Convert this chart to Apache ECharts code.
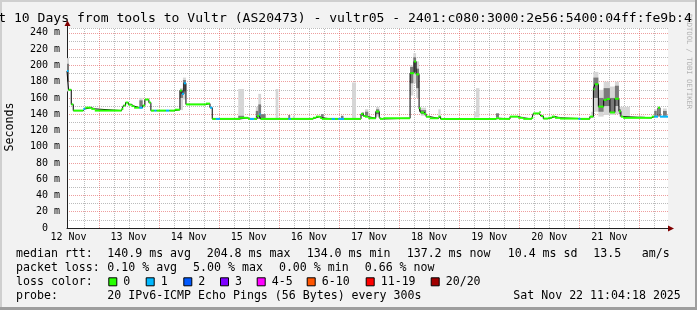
<!DOCTYPE html>
<html><head><meta charset="utf-8">
<script src="https://cdn.jsdelivr.net/npm/echarts@6/dist/echarts.min.js"></script>
<style>html,body{margin:0;padding:0;background:#f2f2f2}#c{width:697px;height:310px}</style>
</head><body><div id="c"></div>
<script>
// ---------------- data (hours since 2025-11-12 00:00) ----------------
const xStart = 11.4, xEnd = 251.4;
const segStart = [11.4,12.0,13.1,13.9,17.9,18.7,21.1,22.5,33.2,33.9,34.8,35.9,37.2,38.2,40.3,41.6,42.5,44.1,44.9,46.3,47.2,50.9,52.3,54.5,56.5,57.3,58.1,58.9,66.9,68.5,69.4,70.8,72.5,80.5,83.7,84.5,86.2,87.3,88.2,88.7,99.8,100.8,109.6,110.8,112.4,113.2,117.1,118.4,119.7,122.1,128.8,129.7,130.4,131.7,134.7,136.1,136.4,137.7,148.4,150.0,150.8,152.0,152.6,154.0,154.8,156.3,159.7,160.6,182.7,183.9,188.3,191.6,193.6,197.0,197.6,200.0,200.6,201.6,203.6,205.0,206.3,208.3,215.6,216.5,220.2,221.6,222.2,223.6,225.7,226.9,228.2,230.2,231.8,232.6,233.5,244.9,245.9,247.4,248.2];
const segMedian = [193,170,152,144.4,146.5,148,146.5,144.4,146.5,150.6,154.3,151.8,150,148,148,150.6,158,154.3,144.4,144.4,144.4,144.4,144.4,145.5,169,165,178,152,153,148,134.2,134.2,134.2,135.5,134.2,134.2,134.2,137.8,140,134.2,134.2,134.2,135.5,137,135.5,134.2,134.2,134.2,134.2,134.2,140.3,137.8,136.9,135,143.2,135.5,134.2,135,190.4,204.8,189,147.3,142.1,140.3,136.9,135,137,134.2,135,134.2,137,135.5,134.2,135.5,140.9,142.5,137.8,134.6,135.5,137,135.5,134.6,134.2,134.2,137,170.7,176.8,149.3,157.5,158.7,142.1,159,143.6,137,135.5,137,137,148,137];
const segLoss = [1,0,0,0,1,0,0,0,0,0,0,0,0,0,1,0,0,0,0,1,0,1,0,0,0,1,1,0,0,1,0,1,0,0,0,1,0,0,1,0,1,0,0,0,0,0,1,0,1,0,0,0,0,0,0,0,0,0,0,0,0,0,0,0,0,0,0,0,0,0,0,0,0,0,0,0,0,0,0,0,0,0,1,0,0,0,0,0,0,0,0,0,0,0,0,0,1,0,1];

// smoke: full ping spread (outer) and central pings (inner)
const smokeOuterStart = [11.4,40.3,56.5,57.7,79.8,86.8,87.8,88.9,94.7,99.8,101.6,112.8,120.8,125.2,129.1,130.4,134.8,148.4,149.7,150.8,152.0,152.7,159.7,173.9,174.7,182.7,220.6,221.6,223.6,225.7,228.2,230.2,231.8,232.6,234.6,239.8,245.9,249.4];
const smokeOuterEnd   = [12.2,41.6,57.7,58.9,82.1,87.8,88.9,90.7,95.8,100.5,102.4,113.9,121.8,126.8,130.0,131.7,136.1,149.7,150.8,152.0,152.7,154.8,160.6,174.7,176.1,183.9,221.6,223.6,225.7,228.2,230.2,231.8,232.6,234.6,236.2,242.2,246.9,250.9];
const smokeOuterLo    = [168,147,145,158,134,134,134,134,134,134,134,134,134,134,138,137,137,163,178,160,142,138,135,136,136,136,135,143,137,139,139,140,137,137,137,135,137,137];
const smokeOuterHi    = [209,160,172,185,171,149,165,140,171,139,138,140,138,179,142,146,149,200,215,205,149,148,146,143,172,141,143,192,170,180,174,180,149,149,149,138,146,147];
const smokeInnerStart = [11.4,40.3,56.5,57.7,79.8,86.8,87.8,88.9,99.8,112.8,120.8,129.1,130.4,134.8,148.4,149.7,150.8,152.0,152.7,182.7,221.6,223.6,225.7,228.2,230.2,231.8,245.9,249.4];
const smokeInnerEnd   = [12.2,41.6,57.7,58.9,82.1,87.8,88.9,90.7,100.5,113.9,121.8,130.0,131.7,136.1,149.7,150.8,152.0,152.7,154.8,183.9,223.6,225.7,228.2,230.2,231.8,232.6,246.9,250.9];
const smokeInnerLo    = [180,149,160,168,134,136,134,134,134,134,134,138,138,140,178,192,172,143,140,136,160,143,150,142,150,140,138,138];
const smokeInnerHi    = [202,157,170,182,138,144,152,140,139,140,138,142,143,146,198,210,196,148,145,141,185,160,172,160,175,146,144,144];

const dayNoons  = [12,36,60,84,108,132,156,180,204,228];
const dayLabels = ['12 Nov','13 Nov','14 Nov','15 Nov','16 Nov','17 Nov','18 Nov','19 Nov','20 Nov','21 Nov'];
const gridHours = [18,24,30,36,42,48,54,60,66,72,78,84,90,96,102,108,114,120,126,132,138,144,150,156,162,168,174,180,186,192,198,204,210,216,222,228,234,240,246];
const yMax = 246, yStep = 10, yLabelStep = 20;

const titleText = 'Last 10 Days from tools to Vultr (AS20473) - vultr05 - 2401:c080:3000:2e56:5400:04ff:fe9b:4';
const rttStats  = ['140.9 ms avg','204.8 ms max','134.0 ms min','137.2 ms now','10.4 ms sd','13.5','am/s'];
const lossStats = ['0.10 % avg','5.00 % max','0.00 % min','0.66 % now'];
const lossLegendLabels = ['0','1','2','3','4-5','6-10','11-19','20/20'];
const lossLegendMax    = [0,1,2,3,5,10,19,20];
const lossLegendColors = ['#26ff00','#00b8ff','#0059ff','#7e00ff','#ff00ff','#ff5500','#ff0000','#a10000'];
const probeText = '20 IPv6-ICMP Echo Pings (56 Bytes) every 300s';
const dateText  = 'Sat Nov 22 11:04:18 2025';

// ---------------- chart ----------------
const MONO = '"DejaVu Sans Mono", monospace';
function lossColor(n){ for (let i=0;i<lossLegendMax.length;i++) if (n<=lossLegendMax[i]) return lossLegendColors[i]; return '#a10000'; }

const medianSegs = segStart.map((s,i)=>[s, i<segStart.length-1?segStart[i+1]:xEnd, segMedian[i], segLoss[i]]);
const stepLine = segStart.map((s,i)=>[s, segMedian[i]]).concat([[xEnd, segMedian[segMedian.length-1]]]);
const outerRows = smokeOuterStart.map((s,i)=>[s, smokeOuterEnd[i], smokeOuterLo[i], smokeOuterHi[i]]);
const innerRows = smokeInnerStart.map((s,i)=>[s, smokeInnerEnd[i], smokeInnerLo[i], smokeInnerHi[i]]);
const vGridRows = gridHours.map(h=>[h]);

function bandRenderer(color){
  return function(params, api){
    const a = api.coord([api.value(0), api.value(3)]);
    const b = api.coord([api.value(1), api.value(2)]);
    return {type:'rect', shape:{x:a[0], y:a[1], width:b[0]-a[0], height:b[1]-a[1]}, style:{fill:color}};
  };
}

const RED = 'rgba(222,79,79,0.55)', GRAY = 'rgba(143,143,143,0.6)';

const graphic = [];
// frame shading
graphic.push({type:'rect', shape:{x:0,y:0,width:697,height:2}, style:{fill:'#cfcfcf'}, silent:true});
graphic.push({type:'rect', shape:{x:0,y:0,width:2,height:310}, style:{fill:'#cfcfcf'}, silent:true});
graphic.push({type:'rect', shape:{x:0,y:307,width:697,height:3}, style:{fill:'#9e9e9e'}, silent:true});
graphic.push({type:'rect', shape:{x:695,y:0,width:2,height:310}, style:{fill:'#9e9e9e'}, silent:true});
// watermark
graphic.push({type:'text', x:689, y:14, rotation:-Math.PI/2, silent:true,
  style:{text:'RRDTOOL / TOBI OETIKER', font:'7.2px '+MONO, fill:'#b4b4b4', align:'left', verticalAlign:'middle'}});
// title
graphic.push({type:'text', x:-25.5, y:18.5, silent:true,
  style:{text:titleText, font:'13.1px '+MONO, fill:'#000', align:'left', verticalAlign:'middle'}});
// y axis title
graphic.push({type:'text', x:10, y:127, rotation:Math.PI/2, silent:true,
  style:{text:'Seconds', font:'11.6px '+MONO, fill:'#000', align:'center', verticalAlign:'middle'}});
// axis arrows
graphic.push({type:'line', shape:{x1:668,y1:228.5,x2:671,y2:228.5}, style:{stroke:'#212121',lineWidth:1}, silent:true});
graphic.push({type:'polygon', shape:{points:[[668,225.5],[668,231.5],[674,228.5]]}, style:{fill:'#800000'}, silent:true});
graphic.push({type:'line', shape:{x1:67.5,y1:28,x2:67.5,y2:25}, style:{stroke:'#212121',lineWidth:1}, silent:true});
graphic.push({type:'polygon', shape:{points:[[64.5,26],[70.5,26],[67.5,20.5]]}, style:{fill:'#800000'}, silent:true});

// legend texts
const LF = '11.6px '+MONO;
function txt(x,y,t){ graphic.push({type:'text', x:x, y:y, silent:true, style:{text:t, font:LF, fill:'#000', align:'left', verticalAlign:'middle'}}); }
const row = [254, 268.3, 282.3, 296.3];
txt(16,row[0],'median rtt:');
[107.3,206.7,306.7,406.7,507.7,593.3,641.7].forEach((x,i)=>txt(x,row[0],rttStats[i]));
txt(16,row[1],'packet loss:');
[107.3,193.1,278.9,364.7].forEach((x,i)=>txt(x,row[1],lossStats[i]));
txt(16,row[2],'loss color:');
[108.3,145.7,183.3,220,256.7,306.7,365.7,430.7].forEach((x,i)=>{
  graphic.push({type:'rect', shape:{x:x+0.5,y:row[2]-4.5,width:8,height:8}, style:{fill:lossLegendColors[i], stroke:'#000', lineWidth:1}, silent:true});
  txt(x+15,row[2],lossLegendLabels[i]);
});
txt(16,row[3],'probe:');
txt(107.3,row[3],probeText);
txt(513.3,row[3],dateText);

const option = {
  animation:false,
  backgroundColor:'#f2f2f2',
  grid:{left:67, top:28, width:601, height:200, show:true, backgroundColor:'#ffffff', borderWidth:0},
  xAxis:{type:'value', min:xStart, max:xEnd,
    axisLine:{show:true, onZero:false, lineStyle:{color:'#212121', width:1}},
    axisTick:{show:false},
    splitLine:{show:false},
    axisLabel:{customValues:dayNoons, formatter:(v)=>{const i=dayNoons.indexOf(Math.round(v)); return i>=0?dayLabels[i]:'';},
      fontFamily:MONO, fontSize:10, color:'#000', margin:4}},
  yAxis:{type:'value', min:0, max:yMax, interval:yStep,
    axisLine:{show:true, onZero:false, lineStyle:{color:'#212121', width:1}},
    axisTick:{show:false},
    splitLine:{show:true, lineStyle:{color:[RED, GRAY], type:[1,1], width:1}},
    axisLabel:{formatter:(v)=>{const r=Math.round(v); if (r%yLabelStep!==0) return ''; return r===0?'0  ':r+' m';},
      fontFamily:MONO, fontSize:10, color:'#000', margin:7, showMaxLabel:false}},
  graphic:graphic,
  series:[
    {type:'custom', z:1, silent:true, clip:true, encode:{x:0}, data:vGridRows,
      renderItem:function(params, api){
        const h = api.value(0);
        const a = api.coord([h, 0]);
        const b = api.coord([h, yMax]);
        const x = Math.round(a[0]) + 0.5;
        return {type:'line', shape:{x1:x, y1:a[1], x2:x, y2:b[1]},
          style:{stroke:(Math.round(h)%24===0)?RED:GRAY, lineWidth:1, lineDash:[1,1]}};
      }},
    {type:'custom', z:2, silent:true, clip:true, renderItem:bandRenderer('#d6d6d6'), encode:{x:[0,1], y:[2,3]}, data:outerRows},
    {type:'custom', z:3, silent:true, clip:true, renderItem:bandRenderer('#7a7a7a'), encode:{x:[0,1], y:[2,3]}, data:innerRows},
    {type:'line', z:4, silent:true, step:'end', symbol:'none', data:stepLine, lineStyle:{color:'#000', width:1}},
    {type:'custom', z:5, silent:true, clip:true, encode:{x:[0,1], y:2}, data:medianSegs,
      renderItem:function(params, api){
        const a = api.coord([api.value(0), api.value(2)]);
        const b = api.coord([api.value(1), api.value(2)]);
        return {type:'rect', shape:{x:a[0], y:a[1]-1, width:b[0]-a[0], height:2}, style:{fill:lossColor(api.value(3))}};
      }}
  ]
};
const chart = echarts.init(document.getElementById('c'), null, {width:697, height:310});
chart.setOption(option);
</script>
</body></html>
